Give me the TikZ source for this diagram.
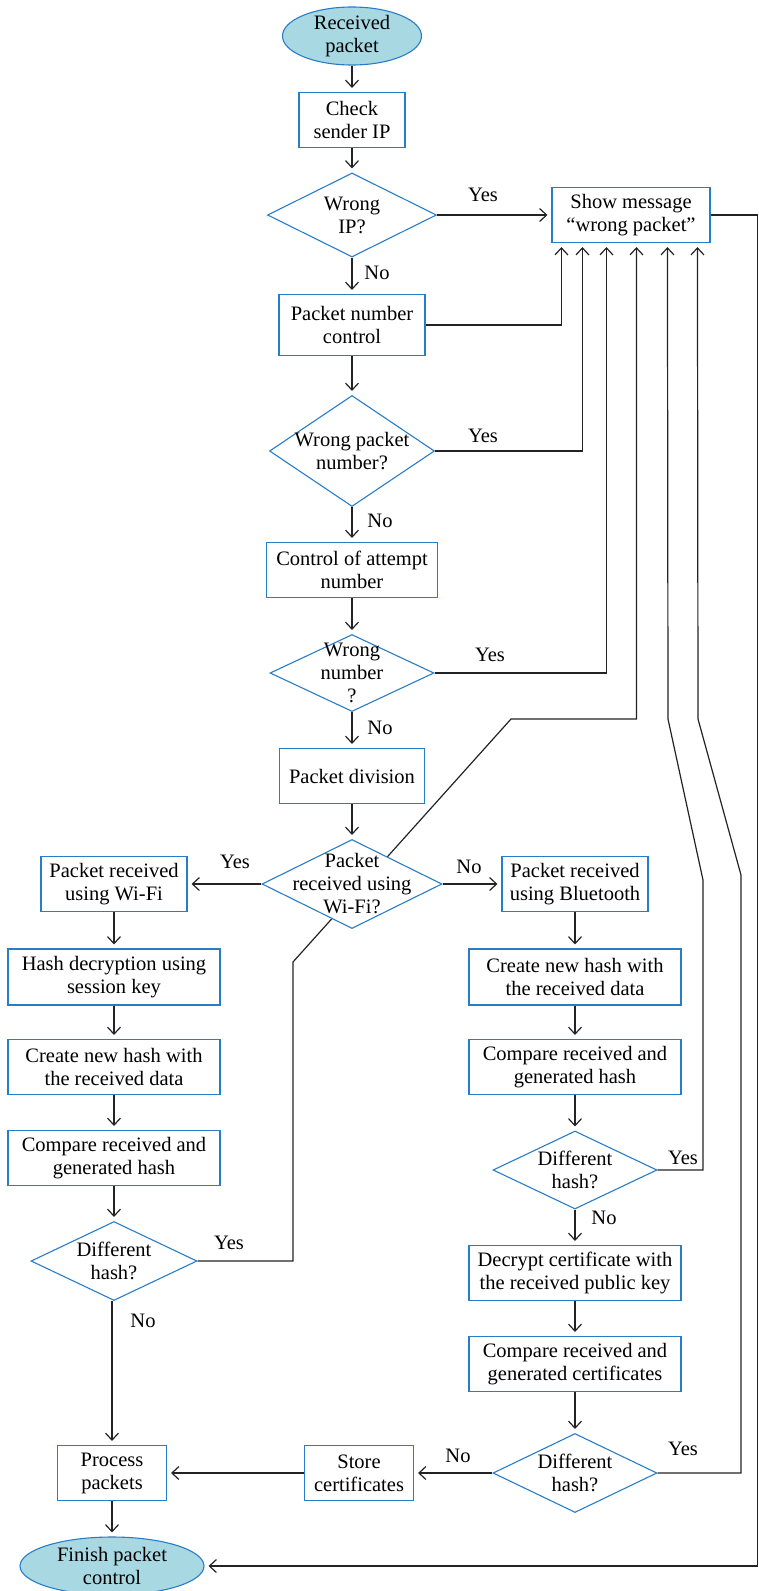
\documentclass[tikz,border=0pt]{standalone}
\usepackage{fontspec}
\setmainfont{Liberation Serif}
\usetikzlibrary{shapes.geometric,arrows.meta,backgrounds}
\definecolor{flowblue}{RGB}{40,125,200}
\definecolor{capfill}{RGB}{168,216,226}
\definecolor{wirecol}{RGB}{35,35,35}
\tikzset{
  box/.style={draw=flowblue, line width=1.1pt, fill=white, align=center, inner sep=2pt, minimum height=55pt},
  decision/.style={diamond, aspect=2, draw=flowblue, line width=1.1pt, fill=white, align=center, inner sep=-20pt},
  terminal/.style={ellipse, draw=flowblue, line width=1.1pt, fill=capfill, align=center, inner sep=-4pt},
  flow/.style={draw=wirecol, line width=1.2pt, -{Straight Barb[length=7pt,width=13pt]}, shorten >=4pt},
  lbl/.style={inner sep=0pt},
}
\begin{document}
\begin{tikzpicture}[x=1pt, y=-1pt, font=\fontsize{20.5}{23}\selectfont]

    \useasboundingbox (0,0) rectangle (759,1591); % page size

    % main column
    \node[terminal, minimum width=139pt, minimum height=58pt] (recv) at (352,36) {Received\\packet};
    \node[box, minimum width=106pt] (checkip) at (352,120) {Check\\sender IP};
    \node[decision, minimum width=169pt, minimum height=84pt] (wrongip) at (352,215) {Wrong\\IP?};
    \node[box, minimum width=158pt] (msg) at (631,215) {Show message\\“wrong packet”};
    \node[box, minimum width=146pt, minimum height=61pt] (pnctrl) at (352,325) {Packet number\\control};
    \node[decision, minimum width=165pt, minimum height=111pt] (wrongpn) at (352,451) {Wrong packet\\number?};
    \node[box, minimum width=171pt] (attempt) at (352,570) {Control of attempt\\number};
    \node[decision, minimum width=164pt, minimum height=77pt] (wrongnum) at (352,673) {Wrong\\number\\?};
    \node[box, minimum width=145pt] (division) at (352,776) {Packet division};
    \node[decision, minimum width=180pt, minimum height=89pt] (viawifi) at (352,884) {Packet\\received using\\Wi-Fi?};

    % Wi-Fi branch
    \node[box, minimum width=146pt] (wifi) at (114,884) {Packet received\\using Wi-Fi};
    \node[box, minimum width=212pt, minimum height=56pt] (hashdec) at (114,977) {Hash decryption using\\session key};
    \node[box, minimum width=212pt] (lhash) at (114,1067) {Create new hash with\\the received data};
    \node[box, minimum width=212pt] (lcomp) at (114,1158) {Compare received and\\generated hash};
    \node[decision, minimum width=166pt, minimum height=79pt] (ldiff) at (114,1261) {Different\\hash?};
    \node[box, minimum width=109pt] (process) at (112,1473) {Process\\packets};
    \node[terminal, minimum width=184pt, minimum height=58pt] (finish) at (112,1566) {Finish packet\\control};

    % Bluetooth branch
    \node[box, minimum width=146pt] (bt) at (575,884) {Packet received\\using Bluetooth};
    \node[box, minimum width=212pt, minimum height=56pt] (rhash) at (575,977) {Create new hash with\\the received data};
    \node[box, minimum width=212pt] (rcomp) at (575,1067) {Compare received and\\generated hash};
    \node[decision, minimum width=164pt, minimum height=78pt] (rdiff) at (575,1170) {Different\\hash?};
    \node[box, minimum width=212pt] (decrypt) at (575,1273) {Decrypt certificate with\\the received public key};
    \node[box, minimum width=212pt] (certcmp) at (575,1364) {Compare received and\\generated certificates};
    \node[decision, minimum width=164pt, minimum height=79pt] (certdiff) at (575,1473) {Different\\hash?};
    \node[box, minimum width=109pt] (store) at (359,1473) {Store\\certificates};

    % bends of the return lines
    \coordinate (wfa) at (293,962);
    \coordinate (wfb) at (511,719);
    \coordinate (bta) at (703,880);
    \coordinate (btb) at (668,719);
    \coordinate (cra) at (741,875);
    \coordinate (crb) at (698,719);

    % straight flow
    \draw[flow] (recv) -- (checkip);
    \draw[flow] (checkip) -- (wrongip);
    \draw[flow] (wrongip) -- (msg);
    \draw[flow] (wrongip) -- (pnctrl);
    \draw[flow] (pnctrl) -- (wrongpn);
    \draw[flow] (wrongpn) -- (attempt);
    \draw[flow] (attempt) -- (wrongnum);
    \draw[flow] (wrongnum) -- (division);
    \draw[flow] (division) -- (viawifi);
    \draw[flow] (viawifi) -- (wifi);
    \draw[flow] (viawifi) -- (bt);

    \draw[flow] (wifi) -- (hashdec);
    \draw[flow] (hashdec) -- (lhash);
    \draw[flow] (lhash) -- (lcomp);
    \draw[flow] (lcomp) -- (ldiff);
    \draw[flow] (ldiff.south -| process.north) -- (process.north);
    \draw[flow] (process) -- (finish);

    \draw[flow] (bt) -- (rhash);
    \draw[flow] (rhash) -- (rcomp);
    \draw[flow] (rcomp) -- (rdiff);
    \draw[flow] (rdiff) -- (decrypt);
    \draw[flow] (decrypt) -- (certcmp);
    \draw[flow] (certcmp) -- (certdiff);
    \draw[flow] (certdiff) -- (store);
    \draw[flow] (store) -- (process);

    % back to the message box
    \draw[flow] (pnctrl.east) -| ([xshift=10pt]msg.south west);
    \draw[flow] (wrongpn.east) -| ([xshift=31pt]msg.south west);
    \draw[flow] (wrongnum.east) -| ([xshift=55pt]msg.south west);
    \begin{scope}[on background layer]
      \draw[flow] (ldiff.east) -| (wfa) -- (wfb) -| ([xshift=85pt]msg.south west); % runs behind the diamond
    \end{scope}
    \draw[flow] (rdiff.east) -| (bta) -- (btb) -- ([xshift=116pt]msg.south west);
    \draw[flow] (certdiff.east) -| (cra) -- (crb) -- ([xshift=146pt]msg.south west);
    \draw[flow] (msg.east) -- ++(47,0) |- (finish.east); % right rim

    % answers
    \node[lbl] (yesip) at (483,195) {Yes};
    \node[lbl] (noip) at (377,273) {No};
    \node[lbl] (yespn) at (483,436) {Yes};
    \node[lbl] (nopn) at (380,521) {No};
    \node[lbl] (yesnum) at (490,655) {Yes};
    \node[lbl] (nonum) at (380,728) {No};
    \node[lbl] (yeswifi) at (235,862) {Yes};
    \node[lbl] (nowifi) at (469,867) {No};
    \node[lbl] (yesldiff) at (229,1243) {Yes};
    \node[lbl] (noldiff) at (143,1321) {No};
    \node[lbl] (yesrdiff) at (683,1158) {Yes};
    \node[lbl] (nordiff) at (604,1218) {No};
    \node[lbl] (nocert) at (458,1456) {No};
    \node[lbl] (yescert) at (683,1449) {Yes};

\end{tikzpicture}
\end{document}
